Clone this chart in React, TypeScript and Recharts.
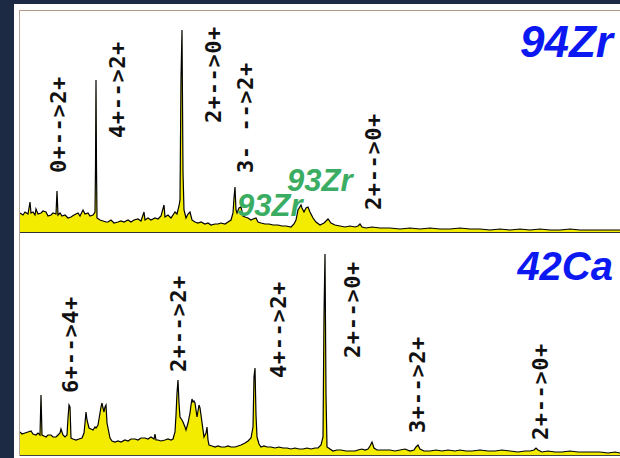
import React from "react"
import { AreaChart, Area, XAxis, YAxis, ReferenceDot } from "recharts"

// channel / counts, 94Zr spectrum
const zrChannel = [
  20, 23, 25, 28, 30, 31, 33, 35, 36, 38, 41, 43, 46, 48, 51, 53, 56, 57, 58, 60, 62, 65, 68, 71, 74, 78, 80, 83, 85, 88,
  90, 93, 95, 95.5, 96, 96.5, 97, 100, 103, 106, 108, 111, 114, 118, 121, 124, 128, 131, 134, 138, 141, 144, 145, 148,
  151, 155, 158, 161, 164, 165, 168, 171, 175, 177, 179, 180, 181, 182, 183, 184, 186, 188, 190, 192, 195, 198, 201,
  205, 208, 211, 215, 218, 221, 225, 228, 231, 233, 234, 235, 236, 237, 239, 241, 243, 245, 248, 251, 253, 256, 258,
  261, 265, 269, 273, 278, 282, 286, 291, 294, 296, 298, 301, 302, 304, 306, 308, 310, 313, 316, 320, 324, 328, 331,
  335, 340, 345, 350, 355, 358, 360, 362, 366, 372, 380, 390, 400, 410, 420, 430, 440, 450, 460, 470, 480, 490, 500,
  510, 520, 530, 540, 550, 560, 570, 580, 590, 600, 610, 620,
]
const zrCounts = [
  19, 17, 20, 18, 30, 19, 20, 17, 23, 18, 19, 21, 20, 16, 17, 19, 18, 41, 17, 19, 16, 17, 14, 15, 17, 19, 16, 22, 18, 19,
  16, 17, 20, 64, 152, 64, 14, 12, 11, 10, 10, 12, 9, 10, 11, 10, 12, 10, 12, 13, 11, 20, 12, 14,
  12, 14, 13, 16, 27, 15, 17, 14, 20, 18, 26, 32, 154, 202, 60, 22, 14, 18, 20, 12, 10, 9, 10,
  8, 9, 7, 8, 8, 9, 8, 10, 12, 19, 34, 45, 22, 19, 24, 25, 16, 15, 14, 12, 13, 14, 10,
  9, 8, 8, 7, 7, 6, 6, 5, 8, 12, 22, 27, 24, 20, 24, 25, 20, 14, 10, 7, 9, 13, 9,
  7, 6, 5, 6, 5, 6, 8, 5, 4, 5, 4, 4, 3, 4, 3, 4, 3, 3, 4, 3, 3, 2, 3,
  2, 3, 2, 3, 2, 2, 3, 2, 2, 2, 2, 2,
]

// channel / counts, 42Ca spectrum
const caChannel = [
  20, 22, 25, 28, 31, 33, 36, 38, 40, 41, 42, 44, 46, 48, 51, 53, 56, 58, 60, 61, 63, 65, 67, 68, 69, 70, 71, 73, 76, 79,
  82, 84, 85, 86, 87, 89, 91, 93, 95, 96, 98, 100, 101, 102, 103, 104, 105, 106, 107, 109, 110, 112, 115, 118, 121,
  125, 128, 131, 135, 138, 141, 145, 148, 151, 154, 155, 156, 158, 161, 165, 168, 171, 173, 175, 176, 177, 178, 179,
  180, 182, 183, 185, 186, 188, 190, 191, 192, 193, 194, 195, 196, 197, 198, 199, 200, 201, 203, 204, 206, 207, 208,
  209, 212, 215, 218, 221, 225, 228, 231, 235, 238, 241, 245, 248, 251, 253, 254, 255, 256, 257, 259, 261, 264, 267,
  271, 275, 279, 283, 287, 291, 295, 299, 303, 307, 311, 315, 318, 321, 323, 324, 325, 326, 327, 330, 333, 337, 341,
  346, 351, 355, 358, 362, 365, 368, 370, 372, 374, 377, 381, 386, 390, 395, 400, 405, 410, 414, 416, 418, 420, 424,
  430, 436, 442, 448, 455, 460, 466, 472, 480, 488, 495, 502, 510, 518, 525, 530, 534, 536, 538, 542, 548, 555, 562,
  570, 578, 585, 592, 600, 608, 615, 620,
]
const caCounts = [
  23, 21, 22, 23, 24, 21, 20, 22, 20, 60, 20, 19, 18, 20, 20, 18, 18, 20, 22, 26, 20, 18, 20, 37, 50, 48, 17, 16, 15, 16,
  17, 22, 32, 43, 35, 27, 26, 25, 28, 27, 30, 42, 48, 52, 47, 43, 48, 50, 32, 22, 17, 14, 13, 14, 13,
  15, 14, 16, 16, 15, 17, 17, 16, 18, 16, 21, 15, 15, 14, 15, 16, 15, 16, 23, 40, 62, 75, 52,
  38, 35, 33, 28, 25, 32, 42, 50, 56, 53, 54, 52, 45, 38, 44, 50, 47, 40, 25, 18, 22, 28, 15,
  10, 9, 8, 9, 8, 8, 9, 8, 8, 9, 10, 12, 14, 17, 28, 78, 87, 40, 18, 11, 8, 9, 8,
  8, 7, 8, 7, 7, 6, 7, 6, 6, 7, 6, 7, 7, 10, 18, 140, 201, 60, 8, 6, 4, 5, 5,
  4, 4, 4, 5, 6, 5, 6, 9, 13, 7, 5, 5, 5, 5, 4, 5, 6, 4, 5, 8, 10, 6, 4,
  4, 5, 4, 5, 4, 5, 4, 4, 5, 4, 4, 5, 4, 3, 4, 4, 5, 7, 5, 3, 4, 3, 3,
  4, 3, 3, 3, 3, 2, 3, 2,
]

// transition labels: text, channel, counts level where the text starts
const zrLines = ["0+-->2+", "4+-->2+", "2+-->0+", "3- -->2+", "2+-->0+"]
const zrLineChannel = [58, 117, 213, 245, 373]
const zrLineLevel = [59, 94, 109, 59, 22]

const caLines = ["6+-->4+", "2+-->2+", "4+-->2+", "2+-->0+", "3+-->2+", "2+-->0+"]
const caLineChannel = [70, 178, 278, 352, 417, 540]
const caLineLevel = [62, 83, 77, 97, 22, 15]

const contaminant = ["93Zr", "93Zr"]
const contaminantChannel = [287, 237]
const contaminantLevel = [41, 16]

const zrData = zrChannel.map((ch, i) => ({ ch, counts: zrCounts[i] }))
const caData = caChannel.map((ch, i) => ({ ch, counts: caCounts[i] }))

const W = 600

const anchor = (p: any) => {
  const vb = p.viewBox || p
  return { x: vb.x + (vb.width || 0) / 2, y: vb.y + (vb.height || 0) / 2 }
}

const vLabel = (text: string) => (p: any) => {
  const { x, y } = anchor(p)
  return (
    <text
      x={x}
      y={y}
      transform={`rotate(-90 ${x} ${y})`}
      textAnchor="start"
      dominantBaseline="central"
      fontFamily="DejaVu Sans Mono"
      fontWeight="bold"
      fontSize={22}
      letterSpacing={0.6}
      fill="#111"
    >
      {text}
    </text>
  )
}

const hLabel = (text: string, color: string, size: number, align: "start" | "end") => (p: any) => {
  const { x, y } = anchor(p)
  return (
    <text
      x={x}
      y={y}
      textAnchor={align}
      fontFamily="Liberation Sans"
      fontWeight="bold"
      fontStyle="italic"
      fontSize={size}
      fill={color}
    >
      {text}
    </text>
  )
}

function Spectrum({ data, height, maxY, lines, lineCh, lineLvl, title, titleSize, extra }: any) {
  return (
    <AreaChart width={W} height={height} data={data} margin={{ top: 0, right: 0, bottom: 0, left: 0 }}>
      <XAxis dataKey="ch" type="number" domain={[20, 620]} hide allowDataOverflow />
      <YAxis type="number" domain={[0, maxY]} hide allowDataOverflow />
      <Area
        type="linear"
        dataKey="counts"
        stroke="#000"
        strokeWidth={1.2}
        fill="#f3ec00"
        fillOpacity={1}
        dot={false}
        activeDot={false}
        isAnimationActive={false}
      />
      {lines.map((t: string, i: number) => (
        <ReferenceDot key={"l" + i} x={lineCh[i]} y={lineLvl[i]} r={1} fill="none" stroke="none" label={vLabel(t)} />
      ))}
      {extra}
      <ReferenceDot x={613} y={175} r={1} fill="none" stroke="none" label={hLabel(title, "#0c18f2", titleSize, "end")} />
    </AreaChart>
  )
}

export default function App() {
  return (
    <div style={{ position: "fixed", left: 0, top: 0, width: 620, height: 458, background: "#1c2a44", overflow: "hidden" }}>
      <div style={{ position: "absolute", left: 14, top: 4, width: 606, height: 454, background: "#fff" }} />
      <div style={{ position: "absolute", left: 19, top: 10, width: 601, height: 1, background: "#b39a88" }} />
      <div style={{ position: "absolute", left: 19, top: 10, width: 1, height: 446, background: "#b8a89c" }} />
      <div style={{ position: "absolute", left: 20, top: 11, width: W, height: 221 }}>
        <Spectrum
          data={zrData}
          height={221}
          maxY={221}
          lines={zrLines}
          lineCh={zrLineChannel}
          lineLvl={zrLineLevel}
          title="94Zr"
          titleSize={44}
          extra={contaminant.map((t, i) => (
            <ReferenceDot
              key={"c" + i}
              x={contaminantChannel[i]}
              y={contaminantLevel[i]}
              r={1}
              fill="none"
              stroke="none"
              label={hLabel(t, "#3aad63", 31, "start")}
            />
          ))}
        />
      </div>
      <div style={{ position: "absolute", left: 20, top: 232, width: W, height: 1, background: "#333" }} />
      <div style={{ position: "absolute", left: 20, top: 234, width: W, height: 221 }}>
        <Spectrum
          data={caData}
          height={221}
          maxY={221}
          lines={caLines}
          lineCh={caLineChannel}
          lineLvl={caLineLevel}
          title="42Ca"
          titleSize={40}
        />
      </div>
      <div style={{ position: "absolute", left: 20, top: 455, width: W, height: 1, background: "#444" }} />
    </div>
  )
}
